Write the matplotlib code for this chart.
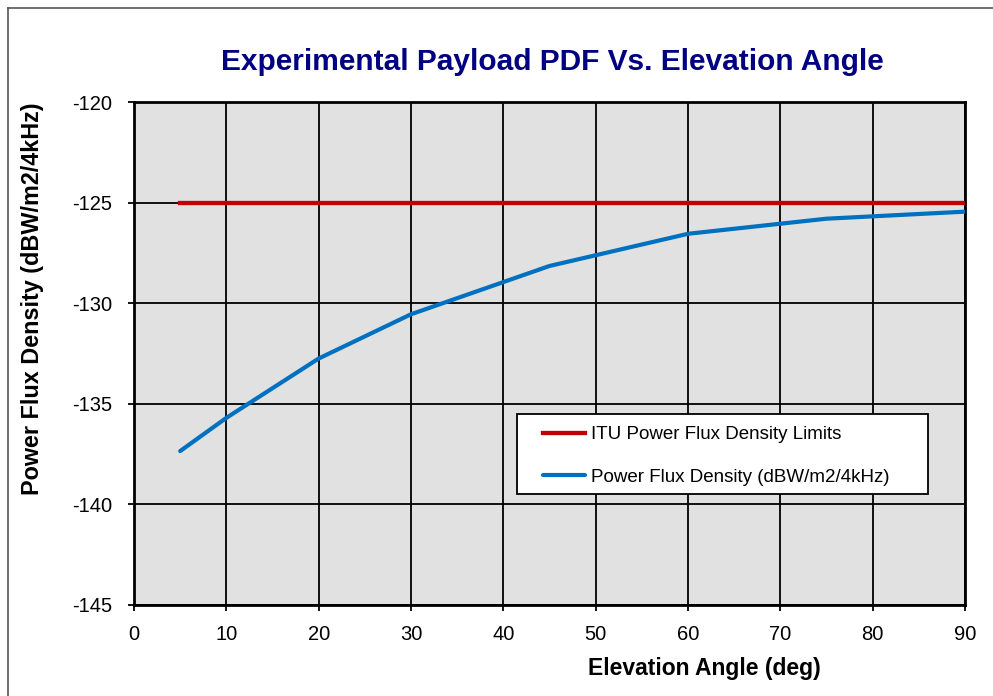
import matplotlib
matplotlib.use("Agg")
import matplotlib.pyplot as plt
from matplotlib.lines import Line2D
from matplotlib.patches import Rectangle

# ---------------------------------------------------------------------------
# Data
# ---------------------------------------------------------------------------
elev_deg = [5, 10, 20, 30, 45, 60, 75, 90]
pfd = [-137.35, -135.7, -132.75, -130.55, -128.15, -126.55, -125.8, -125.45]

itu_elev = [5, 90]
itu_limit = [-125, -125]

x_ticks = list(range(0, 91, 10))
y_ticks = [-145, -140, -135, -130, -125, -120]

plt.rcParams["font.family"] = ["Liberation Sans", "DejaVu Sans"]
plt.rcParams["axes.unicode_minus"] = False

W, H = 993, 696
fig = plt.figure(figsize=(W / 100, H / 100), dpi=100)
ax = fig.add_axes([134 / W, 1 - 605 / H, 831 / W, 503 / H])

ax.set_facecolor("#e1e1e1")
ax.plot(itu_elev, itu_limit, color="#c00000", lw=3.1,
        label="ITU Power Flux Density Limits", zorder=3)
ax.plot(elev_deg, pfd, color="#0070c0", lw=3.0,
        label="Power Flux Density (dBW/m2/4kHz)", zorder=3, solid_capstyle="round")

ax.set_xlim(0, 90)
ax.set_ylim(-145, -120)
ax.set_xticks(x_ticks)
ax.set_yticks(y_ticks)
ax.set_xticklabels([str(v) for v in x_ticks])
ax.set_yticklabels([str(v) for v in y_ticks])
ax.grid(True, color="black", lw=1.3)
ax.set_axisbelow(True)
for s in ax.spines.values():
    s.set_linewidth(2)
ax.tick_params(axis="x", labelsize=14.5, length=4.5, width=1.3, pad=10)
ax.tick_params(axis="y", labelsize=14.5, length=4, width=1.3, pad=12)

ax.set_xlabel("Elevation Angle (deg)", fontsize=16.5, fontweight="bold")
ax.xaxis.set_label_coords((704.5 - 134) / 831, (605 - 668) / 503)
ax.xaxis.label.set_va("center")
ax.set_ylabel("Power Flux Density (dBW/m2/4kHz)", fontsize=16.8, fontweight="bold")
ax.yaxis.set_label_coords((33 - 134) / 831, (605 - 298.5) / 503)
ax.yaxis.label.set_va("center")

fig.text(552 / W, 1 - 62 / H, "Experimental Payload PDF Vs. Elevation Angle",
         fontsize=21.5, fontweight="bold", color="#000080", ha="center", va="center")

# legend box drawn separately so its size matches the reference
box = Rectangle(((517 - 134) / 831, (605 - 494) / 503), 411 / 831, 80 / 503,
                transform=ax.transAxes, facecolor="white", edgecolor="black",
                lw=1.3, zorder=4)
ax.add_patch(box)
leg = ax.legend(loc="upper left", bbox_to_anchor=((543 - 134) / 831, (605 - 426) / 503),
                fontsize=13.5, frameon=False, borderpad=0, labelspacing=1.37,
                handlelength=2.25, handletextpad=0.3, borderaxespad=0)
leg.set_zorder(5)

# outer chart border (left and top edges visible)
fig.add_artist(Line2D([8 / W, 8 / W], [0, 1 - 8 / H], color="#555555", lw=1.2))
fig.add_artist(Line2D([8 / W, 1], [1 - 8 / H, 1 - 8 / H], color="#555555", lw=1.2))

fig.savefig("out.png", dpi=100)
